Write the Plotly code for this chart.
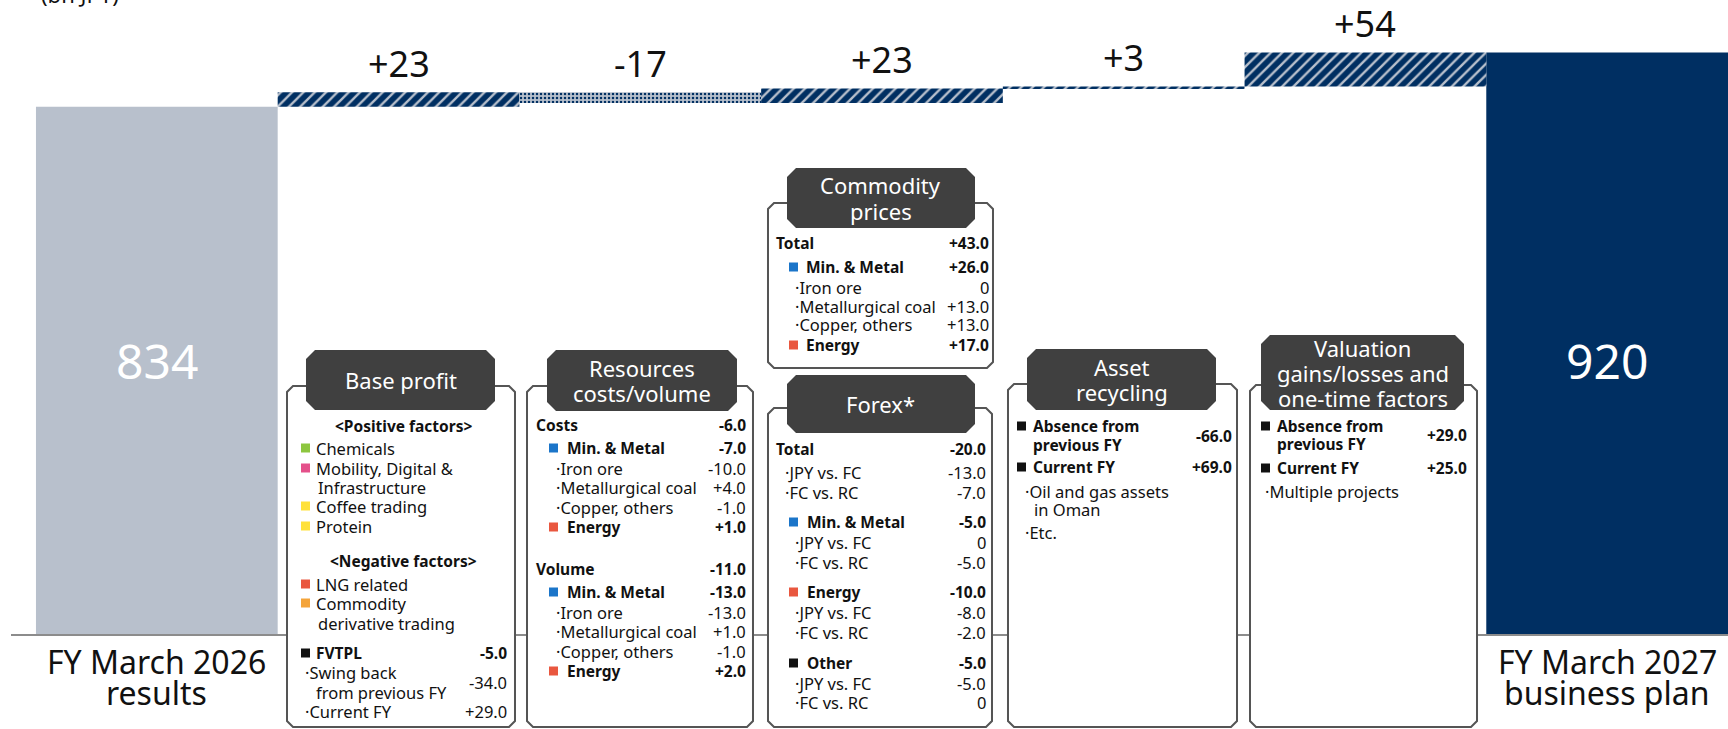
import plotly.graph_objects as go

# ------------------------------------------------------------------ data
CATEGORIES = ["FY March 2026 results", "Base profit", "Resources costs/volume",
              "Commodity prices / Forex", "Asset recycling",
              "Valuation gains/losses and one-time factors", "FY March 2027 business plan"]
START_VALUE = 834
END_VALUE = 920
DELTAS = [23, -17, 23, 3, 54]
DELTA_LABELS = ["+23", "-17", "+23", "+3", "+54"]
END_LABELS = [("FY March 2026", "results"), ("FY March 2027", "business plan")]
UNIT_LABEL = "(bn JPY)"

BOX_TITLES = [["Base profit"], ["Resources", "costs/volume"], ["Commodity", "prices"], ["Forex*"],
              ["Asset", "recycling"], ["Valuation", "gains/losses and", "one-time factors"]]

BASE_PROFIT_ROWS = [
    ("<Positive factors>", "", "center", None),
    ("Chemicals", "", "plain", "Chemicals"),
    ("Mobility, Digital &", "", "plain", "Mobility"),
    ("Infrastructure", "", "plainc", None),
    ("Coffee trading", "", "plain", "Food"),
    ("Protein", "", "plain", "Food"),
    ("<Negative factors>", "", "center", None),
    ("LNG related", "", "plain", "Energy"),
    ("Commodity", "", "plain", "Trading"),
    ("derivative trading", "", "plainc", None),
    ("FVTPL", "-5.0", "seg", "Other"),
    ("Swing back", "-34.0", "item", None),
    ("from previous FY", "", "itemc", None),
    ("Current FY", "+29.0", "item", None),
]
RESOURCES_ROWS = [
    ("Costs", "-6.0", "head", None),
    ("Min. & Metal", "-7.0", "seg", "MinMetal"),
    ("Iron ore", "-10.0", "item", None),
    ("Metallurgical coal", "+4.0", "item", None),
    ("Copper, others", "-1.0", "item", None),
    ("Energy", "+1.0", "seg", "Energy"),
    ("Volume", "-11.0", "head", None),
    ("Min. & Metal", "-13.0", "seg", "MinMetal"),
    ("Iron ore", "-13.0", "item", None),
    ("Metallurgical coal", "+1.0", "item", None),
    ("Copper, others", "-1.0", "item", None),
    ("Energy", "+2.0", "seg", "Energy"),
]
COMMODITY_ROWS = [
    ("Total", "+43.0", "head", None),
    ("Min. & Metal", "+26.0", "seg", "MinMetal"),
    ("Iron ore", "0", "item", None),
    ("Metallurgical coal", "+13.0", "item", None),
    ("Copper, others", "+13.0", "item", None),
    ("Energy", "+17.0", "seg", "Energy"),
]
FOREX_ROWS = [
    ("Total", "-20.0", "head", None),
    ("JPY vs. FC", "-13.0", "item0", None),
    ("FC vs. RC", "-7.0", "item0", None),
    ("Min. & Metal", "-5.0", "seg", "MinMetal"),
    ("JPY vs. FC", "0", "item", None),
    ("FC vs. RC", "-5.0", "item", None),
    ("Energy", "-10.0", "seg", "Energy"),
    ("JPY vs. FC", "-8.0", "item", None),
    ("FC vs. RC", "-2.0", "item", None),
    ("Other", "-5.0", "seg", "Other"),
    ("JPY vs. FC", "-5.0", "item", None),
    ("FC vs. RC", "0", "item", None),
]
ASSET_ROWS = [
    ("Absence from", "-66.0", "seg", "Other"),
    ("previous FY", "", "segc", None),
    ("Current FY", "+69.0", "seg", "Other"),
    ("Oil and gas assets", "", "item", None),
    ("in Oman", "", "itemc", None),
    ("Etc.", "", "item", None),
]
VALUATION_ROWS = [
    ("Absence from", "+29.0", "seg", "Other"),
    ("previous FY", "", "segc", None),
    ("Current FY", "+25.0", "seg", "Other"),
    ("Multiple projects", "", "item", None),
]

# ------------------------------------------------------------------ style
W, H = 1728, 729
FONT = "Noto Sans"
NAVY = "#002F62"
GREY = "#B8C0CC"
REG = 16.5
BOLD = 15.5
TITLE = 22
TITLE_LH = 25
SEG_COLORS = {"Chemicals": "#8DC63F", "Mobility": "#E4508A", "Food": "#FFE13A",
              "Energy": "#E9573F", "Trading": "#F4A43A", "Other": "#111111",
              "MinMetal": "#1B75C9"}
PATTERNS = [dict(shape="/", bg=NAVY, fg=GREY, size=8, sol=0.3),
            dict(shape=".", bg=GREY, fg=NAVY, size=4, sol=0.3),
            dict(shape="/", bg=NAVY, fg=GREY, size=8, sol=0.3),
            dict(shape="/", bg=NAVY, fg=GREY, size=8, sol=0.3),
            dict(shape="/", bg=NAVY, fg=GREY, size=8, sol=0.3)]

# box geometry (pixel coords): outline x0,y0,x1,y1 ; pill x0,y0,x1,y1
BOX_GEOM = [
    dict(outline=(287, 386, 515, 727), pill=(306, 350, 495, 410),
         xs=dict(head=300, sq=301, txt=315, item=304, itemc=315, plainc=317, val=508, center=403),
         ys=[426, 448, 468, 487, 506, 526, 561, 584, 603, 623, 653, (672, 682), 692, 711]),
    dict(outline=(527, 386, 753, 727), pill=(547, 350, 737, 411),
         xs=dict(head=535, sq=549, txt=566, item=555, val=747),
         ys=[425, 448, 468, 487, 507, 527, 569, 592, 612, 631, 651, 671]),
    dict(outline=(768, 203, 993, 368), pill=(787, 168, 975, 228),
         xs=dict(head=775, sq=789, txt=805, item=794, val=990),
         ys=[243, 267, 287, 306, 325, 345]),
    dict(outline=(768, 408, 992, 727), pill=(787, 375, 975, 433),
         xs=dict(head=775, sq=789, txt=806, item0=784, item=794, val=987),
         ys=[449, 472, 492, 522, 542, 562, 592, 612, 632, 663, 683, 702]),
    dict(outline=(1008, 384, 1237, 727), pill=(1027, 349, 1216, 410),
         xs=dict(sq=1017, txt=1032, segc=1032, item=1024, itemc=1033, val=1233),
         ys=[(426, 436), 445, 467, 491, 509, 532]),
    dict(outline=(1250, 385, 1477, 727), pill=(1261, 335, 1464, 410),
         xs=dict(sq=1261, txt=1276, segc=1276, item=1264, val=1468),
         ys=[(426, 435), 444, 468, 491]),
]
BOX_ROWS = [BASE_PROFIT_ROWS, RESOURCES_ROWS, COMMODITY_ROWS, FOREX_ROWS, ASSET_ROWS, VALUATION_ROWS]

# ------------------------------------------------------------------ figure
fig = go.Figure()

# totals
fig.add_trace(go.Bar(x=[CATEGORIES[0], CATEGORIES[-1]], y=[START_VALUE, END_VALUE], width=1,
                     marker=dict(color=[GREY, NAVY], line=dict(width=0)), hoverinfo="skip"))

# deltas
bases, heights, tops = [], [], []
cum = START_VALUE
for d in DELTAS:
    bases.append(cum if d > 0 else cum + d)
    heights.append(abs(d))
    tops.append(max(cum, cum + d))
    cum += d
fig.add_trace(go.Bar(
    x=CATEGORIES[1:-1], y=heights, base=bases, width=1, hoverinfo="skip",
    marker=dict(color=NAVY, line=dict(width=0),
                pattern=dict(shape=[p["shape"] for p in PATTERNS],
                             bgcolor=[p["bg"] for p in PATTERNS],
                             fgcolor=[p["fg"] for p in PATTERNS],
                             size=[p["size"] for p in PATTERNS],
                             solidity=[p["sol"] for p in PATTERNS],
                             fgopacity=1))))

ann = []
shapes = []


def esc(s):
    return s.replace("&", "&amp;").replace("<", "&lt;").replace(">", "&gt;")


def txt(x, y, s, size=REG, color="#111111", bold=False, anchor="left"):
    t = esc(s)
    if bold:
        t = "<b>" + t + "</b>"
    ann.append(dict(x=x / W, y=1 - y / H, xref="paper", yref="paper", text=t,
                    showarrow=False, xanchor=anchor, yanchor="middle", align=anchor,
                    borderpad=0, font=dict(size=size, color=color, family=FONT)))


def chamfer_path(x0, y0, x1, y1, c):
    pts = [(x0 + c, y0), (x1 - c, y0), (x1, y0 + c), (x1, y1 - c), (x1 - c, y1),
           (x0 + c, y1), (x0, y1 - c), (x0, y0 + c)]
    return "M " + " L ".join(f"{px / W:.5f},{1 - py / H:.5f}" for px, py in pts) + " Z"


# delta labels
for cat, top, lab in zip(CATEGORIES[1:-1], tops, DELTA_LABELS):
    ann.append(dict(x=cat, y=top, xref="x", yref="y", text=lab, showarrow=False, yshift=29,
                    yanchor="middle", font=dict(size=36, color="#111111", family=FONT)))

# total labels
for cat, v in zip([CATEGORIES[0], CATEGORIES[-1]], [START_VALUE, END_VALUE]):
    ann.append(dict(x=cat, y=1 - 360 / H, xref="x", yref="paper", text=str(v), showarrow=False,
                    yanchor="middle", font=dict(size=48, color="white", family=FONT)))

# category labels
for cat, (l1, l2) in zip([CATEGORIES[0], CATEGORIES[-1]], END_LABELS):
    for yy, s in ((661, l1), (692, l2)):
        ann.append(dict(x=cat, y=1 - yy / H, xref="x", yref="paper", text=s, showarrow=False,
                        yanchor="middle", font=dict(size=32, color="#111111", family=FONT)))

# unit label (mostly cut off at top)
ann.append(dict(x=40 / W, y=1 - 10 / H, xref="paper", yref="paper", text=UNIT_LABEL, showarrow=False,
                xanchor="left", yanchor="bottom", borderpad=0,
                font=dict(size=22, color="#111111", family=FONT)))

# boxes
for title_lines, rows, g in zip(BOX_TITLES, BOX_ROWS, BOX_GEOM):
    ox0, oy0, ox1, oy1 = g["outline"]
    shapes.append(dict(type="path", path=chamfer_path(ox0, oy0, ox1, oy1, 6), xref="paper", yref="paper",
                       line=dict(color="#555555", width=2), fillcolor="white", layer="above"))
    px0, py0, px1, py1 = g["pill"]
    shapes.append(dict(type="path", path=chamfer_path(px0, py0, px1, py1, 9), xref="paper", yref="paper",
                       line=dict(width=0), fillcolor="#404040", layer="above"))
    n = len(title_lines)
    cy = (py0 + py1) / 2
    for i, line in enumerate(title_lines):
        txt((px0 + px1) / 2, cy + (i - (n - 1) / 2) * TITLE_LH, line, size=TITLE, color="white",
            anchor="center")
    xs = g["xs"]
    for (label, value, kind, seg), yy in zip(rows, g["ys"]):
        if isinstance(yy, tuple):
            ly, vy = yy
        else:
            ly = vy = yy
        bold = kind in ("head", "seg", "segc", "center")
        if kind == "center":
            txt(xs["center"], ly, label, size=BOLD, bold=True, anchor="center")
        elif kind == "head":
            txt(xs["head"], ly, label, size=BOLD, bold=True)
        elif kind in ("seg", "plain"):
            shapes.append(dict(type="rect", xref="paper", yref="paper",
                               x0=xs["sq"] / W, x1=(xs["sq"] + 9) / W,
                               y0=1 - (ly + 4.5) / H, y1=1 - (ly - 4.5) / H,
                               fillcolor=SEG_COLORS[seg], line=dict(width=0), layer="above"))
            txt(xs["txt"], ly, label, size=BOLD if bold else REG, bold=bold)
        elif kind == "segc":
            txt(xs["segc"], ly, label, size=BOLD, bold=True)
        elif kind == "plainc":
            txt(xs["plainc"], ly, label, size=REG)
        elif kind in ("item", "item0"):
            txt(xs[kind], ly, "\u00b7" + label, size=REG)
        elif kind == "itemc":
            txt(xs["itemc"], ly, label, size=REG)
        if value:
            txt(xs["val"], vy, value, size=BOLD if bold else REG, bold=bold, anchor="right")

fig.update_layout(
    width=W, height=H, margin=dict(l=0, r=0, t=0, b=0),
    paper_bgcolor="white", plot_bgcolor="white",
    barmode="overlay", showlegend=False,
    xaxis=dict(domain=[11 / W, 1], range=[-0.5 - 25 / 242, 6.5], showline=True, linecolor="#8C8C8C",
               linewidth=2, showticklabels=False, ticks="", showgrid=False, zeroline=False,
               categoryorder="array", categoryarray=CATEGORIES),
    yaxis=dict(domain=[95 / H, 1], range=[0, 1003], showticklabels=False, showgrid=False,
               zeroline=False, ticks=""),
    annotations=ann, shapes=shapes,
)

fig.write_html("out.html", config={"displayModeBar": False},
               post_script="document.body.style.margin='0px';document.body.style.padding='0px';"
                           "document.body.style.overflow='hidden';")
